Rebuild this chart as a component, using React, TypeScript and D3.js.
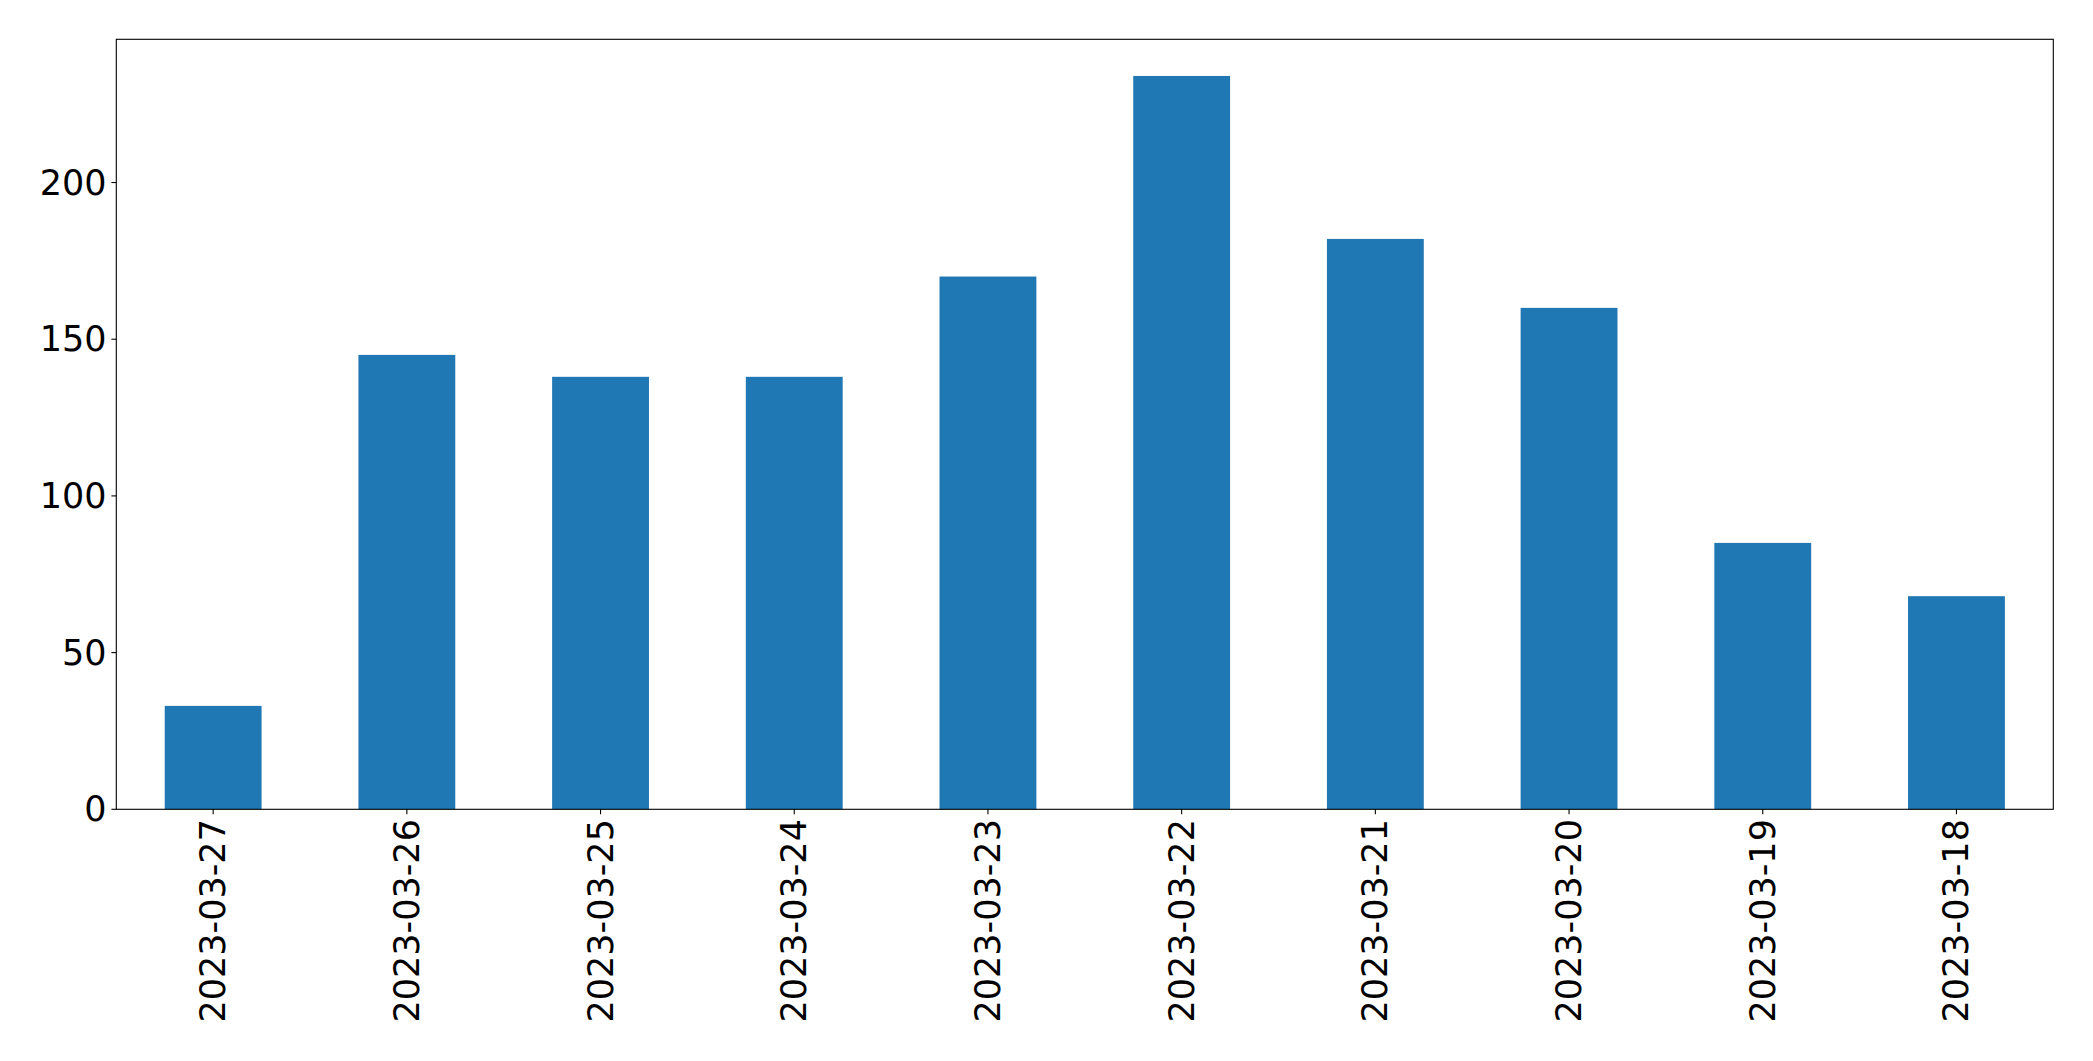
import React from "react";
import * as d3 from "d3";

const categories: string[] = [
  "2023-03-27",
  "2023-03-26",
  "2023-03-25",
  "2023-03-24",
  "2023-03-23",
  "2023-03-22",
  "2023-03-21",
  "2023-03-20",
  "2023-03-19",
  "2023-03-18",
];
const values: number[] = [33, 145, 138, 138, 170, 234, 182, 160, 85, 68];
const yTicks: number[] = [0, 50, 100, 150, 200];

const W = 2093;
const H = 1061;
const left = 116.3;
const right = 2053.3;
const top = 39.3;
const bottom = 809.3;
const FONT = "'DejaVu Sans', sans-serif";
const FS = 35;

export default function App() {
  const x = d3
    .scaleBand<string>()
    .domain(categories)
    .range([left, right])
    .paddingInner(0.5)
    .paddingOuter(0.25);
  const yMax = (d3.max(values) as number) * 1.05;
  const y = d3.scaleLinear().domain([0, yMax]).range([bottom, top]);
  const tickLen = 4.9;
  const pad = 4.9;

  return (
    <svg
      width={W}
      height={H}
      style={{ position: "absolute", left: 0, top: 0, background: "#fff" }}
    >
      <rect x={0} y={0} width={W} height={H} fill="#fff" />
      {categories.map((c, i) => (
        <rect
          key={c}
          x={x(c)}
          y={y(values[i])}
          width={x.bandwidth()}
          height={y(0) - y(values[i])}
          fill="#1f77b4"
        />
      ))}
      <rect
        x={left}
        y={top}
        width={right - left}
        height={bottom - top}
        fill="none"
        stroke="#000"
        strokeWidth={1.1}
      />
      {yTicks.map((t) => (
        <g key={t}>
          <line
            x1={left - tickLen}
            x2={left}
            y1={y(t)}
            y2={y(t)}
            stroke="#000"
            strokeWidth={1.1}
          />
          <text
            x={left - tickLen - pad}
            y={y(t)}
            textAnchor="end"
            dominantBaseline="central"
            fontFamily={FONT}
            fontSize={FS}
            fill="#000"
          >
            {t}
          </text>
        </g>
      ))}
      {categories.map((c) => {
        const cx = (x(c) as number) + x.bandwidth() / 2;
        const ty = bottom + tickLen + pad;
        return (
          <g key={"xt" + c}>
            <line
              x1={cx}
              x2={cx}
              y1={bottom}
              y2={bottom + tickLen}
              stroke="#000"
              strokeWidth={1.1}
            />
            <text
              transform={`translate(${cx},${ty}) rotate(-90)`}
              textAnchor="end"
              dominantBaseline="central"
              fontFamily={FONT}
              fontSize={FS}
              fill="#000"
            >
              {c}
            </text>
          </g>
        );
      })}
    </svg>
  );
}
